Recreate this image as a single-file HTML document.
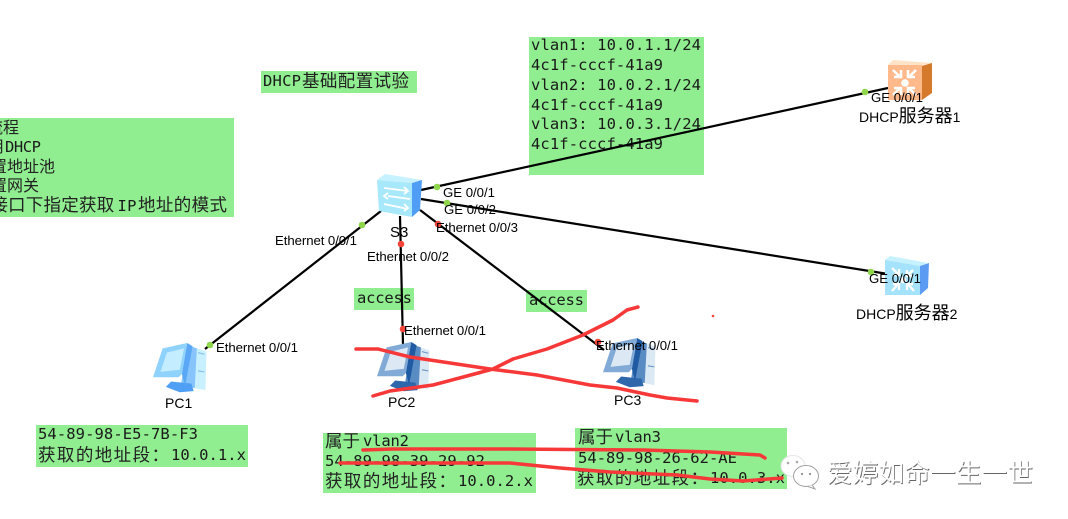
<!DOCTYPE html>
<html><head><meta charset="utf-8"><style>
html,body{margin:0;padding:0;background:#fff;width:1068px;height:519px;overflow:hidden}
svg{display:block}
.m{font-family:"DejaVu Sans Mono","Liberation Mono","Noto Sans CJK SC",monospace;font-size:15.5px;fill:#1a1a1a}
.k{font-family:"Noto Sans CJK SC","WenQuanYi Zen Hei",sans-serif;font-size:17.5px;fill:#222}
.c{font-family:"Noto Sans CJK SC","WenQuanYi Zen Hei",sans-serif;font-size:16px;fill:#222}
.l{font-family:"Liberation Sans",sans-serif;font-size:13.2px;fill:#000}
.n{font-family:"Liberation Sans","Noto Sans CJK SC",sans-serif;font-size:14px;fill:#000}
.n tspan{font-size:18px}
.w{font-family:"Liberation Sans","Noto Sans CJK SC",sans-serif;font-size:25.5px}
.red{fill:none;stroke:#f73838;stroke-width:3.5;stroke-linecap:round;stroke-linejoin:round}
</style></head><body>
<svg width="1068" height="519" viewBox="0 0 1068 519" xmlns="http://www.w3.org/2000/svg">
<g fill="#90ee90">
<rect x="261" y="71" width="156" height="22"/>
<rect x="0" y="118" width="234" height="99"/>
<rect x="529" y="37" width="175" height="138"/>
<rect x="354" y="288" width="60" height="22"/>
<rect x="526" y="290" width="61" height="22"/>
<rect x="36" y="425" width="212" height="42"/>
<rect x="323" y="433" width="213" height="60"/>
<rect x="575" y="428" width="212" height="61"/>
</g>
<g class="m">
<text x="263" y="86" textLength="38">DHCP</text>
<text x="5" y="152" textLength="36">DHCP</text>
<text x="117.5" y="211" textLength="19">IP</text>
<text x="531" y="50" textLength="170">vlan1: 10.0.1.1/24</text>
<text x="531" y="70" textLength="132">4c1f-cccf-41a9</text>
<text x="531" y="90" textLength="170">vlan2: 10.0.2.1/24</text>
<text x="531" y="110" textLength="132">4c1f-cccf-41a9</text>
<text x="531" y="129" textLength="170">vlan3: 10.0.3.1/24</text>
<text x="531" y="149" textLength="132">4c1f-cccf-41a9</text>
<text x="357" y="303" textLength="55">access</text>
<text x="529" y="305" textLength="55">access</text>
<text x="38" y="439" textLength="160">54-89-98-E5-7B-F3</text>
<text x="171" y="460" textLength="75">10.0.1.x</text>
<text x="363" y="446" textLength="46">vlan2</text>
<text x="325" y="466" textLength="160">54-89-98-39-29-92</text>
<text x="458" y="486" textLength="75">10.0.2.x</text>
<text x="615" y="442" textLength="46">vlan3</text>
<text x="578" y="463" textLength="159">54-89-98-26-62-AE</text>
<text x="710" y="483" textLength="75">10.0.3.x</text>
</g>
<g class="k">
<text x="302" y="87" textLength="107">基础配置试验</text>
<text x="-9.7" y="211" textLength="124">接口下指定获取</text>
<text x="138" y="211" textLength="89">地址的模式</text>
<text x="38" y="461" textLength="131">获取的地址段：</text>
<text x="325" y="447" textLength="35">属于</text>
<text x="325" y="487" textLength="131">获取的地址段：</text>
<text x="578" y="443" textLength="35">属于</text>
<text x="577" y="484" textLength="131">获取的地址段：</text>
</g>
<g class="c">
<text x="-13" y="133">流程</text>
<text x="-12" y="152">用</text>
<text x="-9" y="172">置地址池</text>
<text x="-9" y="191">置网关</text>
</g>
<g stroke="#000" stroke-width="2.2" fill="none">
<line x1="421" y1="190" x2="888" y2="88"/>
<line x1="421" y1="199" x2="888" y2="274"/>
<line x1="381" y1="211" x2="205" y2="349"/>
<line x1="400" y1="216" x2="403" y2="345"/>
<line x1="420" y1="210" x2="604" y2="350"/>
</g>
<!-- server 1 -->
<g>
<polygon points="893,60 932,63 922,66 888,65" fill="#ffe3c6"/>
<polygon points="922,66 932,63 932,93 922,100" fill="#d57a2c"/>
<rect x="888" y="65" width="34" height="35" fill="#ffb98a"/>
<g stroke="#fff" stroke-width="2.6" fill="none">
<path d="M893 70l7 7M894 77h7v-7M916 70l-7 7M908 70v7h7M893 95l7-7M894 88h7v7M916 95l-7-7M908 95v-7h7"/>
<circle cx="905" cy="83" r="2.5" fill="#fff"/>
</g>
</g>
<!-- server 2 -->
<g>
<polygon points="890,256 928,263 920,266 885,260" fill="#c6f1ff"/>
<polygon points="920,266 929,263 928,288 920,295" fill="#5b9cf2"/>
<polygon points="885,260 920,266 920,295 885,295" fill="#a4e3fb"/>
<g stroke="#fff" stroke-width="2.4" fill="none">
<path d="M892 268l7 7M893 275h6v-6M913 270l-6 6M907 270v6h6M892 291l7-8M893 284h6v6M914 291l-7-8M907 290v-6h6"/>
<circle cx="903" cy="280" r="2" fill="#fff"/>
</g>
</g>
<!-- switch -->
<g>
<polygon points="385,174 422,180 412,183 377,180" fill="#c6f1ff"/>
<polygon points="412,183 422,180 420,210 412,217" fill="#4f9df5"/>
<polygon points="377,180 412,183 412,217 379,211" fill="#a8e8fb"/>
<g stroke="#fff" stroke-width="1.8" fill="none">
<path d="M384 188l24 3M388 196l22 3M384 204l24 5M404 187l4 4-4 3M388 193l-4 3 4 3M404 204l4 4-4 3"/>
</g>
</g>
<!-- PC1 -->
<g transform="translate(153,343) scale(1.07)">
<polygon points="32,2 50,8 49,44 26,40" fill="#c9f0ff"/>
<polygon points="32,2 41,5 39,42 26,40" fill="#86c4fb"/>
<polygon points="17,36 36,38 38,45 25,46 12,41" fill="#4f9ff5"/>
<polygon points="9,5 32,0 27,29 24,32 0,32" fill="#8fd2fc"/>
<polygon points="13,9 29,5 25,25 7,27" fill="#c4eeff"/>
<polygon points="32,0 37,3 30,40 27,29" fill="#5aa8f5"/>
<path d="M42 9l6 1.5M42 26l6 1" stroke="#7fbcf0" stroke-width="1"/>
</g>
<!-- PC2 -->
<g transform="translate(377,342) scale(1.07)">
<polygon points="32,2 49,8 48,44 26,40" fill="#dbe9f5"/>
<polygon points="32,2 41,5 39,42 26,40" fill="#5a8cc4"/>
<polygon points="17,36 36,38 38,45 25,46 12,41" fill="#2f67ad"/>
<polygon points="9,5 32,0 27,29 24,32 0,32" fill="#82aad6"/>
<polygon points="13,9 29,5 25,25 7,27" fill="#dce9f5"/>
<polygon points="32,0 37,3 30,40 27,29" fill="#1f5aa3"/>
<path d="M42 9l6 1.5M42 26l6 1" stroke="#6a94c6" stroke-width="1"/>
</g>
<!-- PC3 -->
<g transform="translate(603,338) scale(1.07)">
<polygon points="32,2 49,8 48,44 26,40" fill="#dbe9f5"/>
<polygon points="32,2 41,5 39,42 26,40" fill="#5a8cc4"/>
<polygon points="17,36 36,38 38,45 25,46 12,41" fill="#2f67ad"/>
<polygon points="9,5 32,0 27,29 24,32 0,32" fill="#82aad6"/>
<polygon points="13,9 29,5 25,25 7,27" fill="#dce9f5"/>
<polygon points="32,0 37,3 30,40 27,29" fill="#1f5aa3"/>
<path d="M42 9l6 1.5M42 26l6 1" stroke="#6a94c6" stroke-width="1"/>
</g>
<g fill="#8fd64a">
<circle cx="437" cy="187" r="3.3"/><circle cx="865" cy="92" r="3.3"/>
<circle cx="447" cy="203" r="3.3"/><circle cx="871" cy="272" r="3.3"/>
<circle cx="362" cy="225" r="3.3"/><circle cx="210" cy="345" r="3.3"/>
</g>
<g fill="#f4453a">
<circle cx="401" cy="244" r="3.3"/><circle cx="403" cy="329" r="3.3"/>
<circle cx="438" cy="224" r="3.3"/><circle cx="598" cy="342" r="3.3"/>
<circle cx="713" cy="316" r="1.3"/>
</g>
<g class="l">
<text x="443" y="197" textLength="52">GE 0/0/1</text>
<text x="444" y="214" textLength="52">GE 0/0/2</text>
<text x="436" y="232" textLength="82">Ethernet 0/0/3</text>
<text x="275" y="245" textLength="82">Ethernet 0/0/1</text>
<text x="367" y="261" textLength="82">Ethernet 0/0/2</text>
<text x="404" y="335" textLength="82">Ethernet 0/0/1</text>
<text x="216" y="352" textLength="82">Ethernet 0/0/1</text>
<text x="596" y="350" textLength="82">Ethernet 0/0/1</text>
<text x="871" y="102" textLength="52">GE 0/0/1</text>
<text x="869" y="283" textLength="52">GE 0/0/1</text>
</g>
<g class="n">
<text x="390" y="237" font-size="15">S3</text>
<text x="859" y="122">DHCP<tspan>服务器</tspan>1</text>
<text x="856" y="319">DHCP<tspan>服务器</tspan>2</text>
<text x="165" y="408">PC1</text>
<text x="388" y="407">PC2</text>
<text x="614" y="405">PC3</text>
</g>
<g class="red">
<polyline points="356,349 378,349 410,357 450,363 490,369 537,375 590,385 617,388 650,395 667,398 697,401"/>
<polyline points="373,396 390,391 433,385 467,376 493,369 513,359 547,349 583,335 613,320 627,310 638,307"/>
<polyline points="363,450 393,449 510,449 643,450 710,452 760,455 765,458"/>
<polyline points="340,463 410,463 510,463 560,468 610,472 677,475 710,479 743,481 782,478"/>
</g>
<!-- watermark -->
<g>
<ellipse cx="793" cy="466" rx="12" ry="10.5" fill="#fff" stroke="#e4e4e4" stroke-width="1"/>
<ellipse cx="806" cy="476" rx="12.5" ry="10.5" fill="#fff" stroke="#a0a0a0" stroke-width="1"/>
<path d="M812 485l3 4-7-2.5" fill="#fff" stroke="#a0a0a0" stroke-width="1"/>
<circle cx="788" cy="463" r="1.3" fill="#aaa"/><circle cx="797" cy="462" r="1.3" fill="#aaa"/>
<circle cx="802" cy="474" r="1" fill="#777"/><circle cx="810" cy="474" r="1" fill="#777"/>
</g>
<text class="w" x="827.8" y="482.8" fill="#666" textLength="206">爱婷如命一生一世</text>
<text class="w" x="827" y="482" fill="#fff" textLength="206">爱婷如命一生一世</text>
</svg>
</body></html>
